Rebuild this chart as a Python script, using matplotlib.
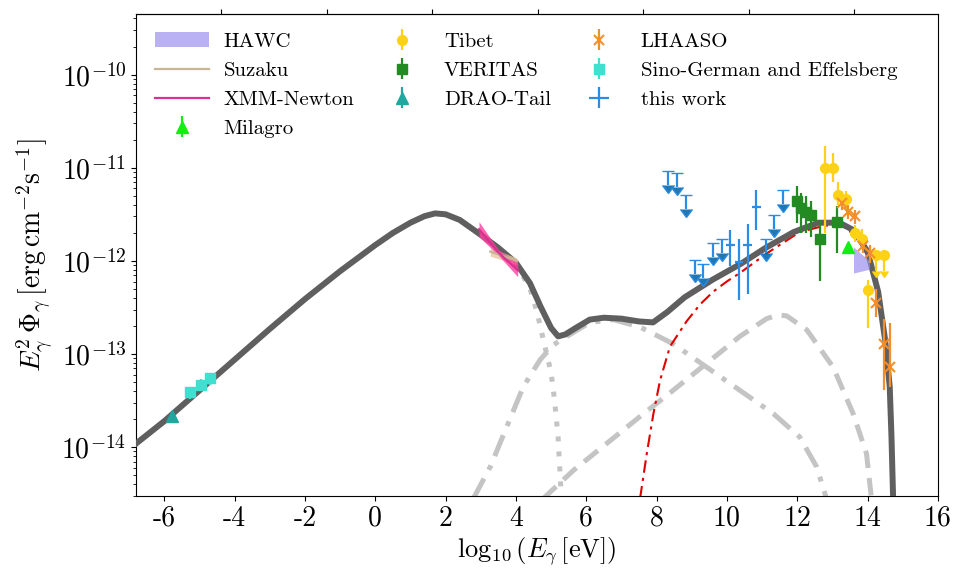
import numpy as np
from matplotlib import pyplot as plt
from matplotlib.ticker import NullFormatter

plt.rcParams['mathtext.fontset'] = 'cm'
plt.rcParams['font.family'] = 'serif'
plt.rcParams['font.serif'] = ['cmr10']
plt.rcParams['axes.formatter.use_mathtext'] = True
plt.rcParams['axes.unicode_minus'] = False

# model curves: log10(E/eV) and log10(E^2 Phi / erg cm^-2 s^-1)
total_x = [-6.8, -6.0, -5.0, -4.0, -3.0, -2.0, -1.0, 0.0, 0.5, 1.0, 1.4, 1.7, 2.0, 2.4,
           3.0, 3.5, 4.0, 4.4, 4.7, 5.0, 5.2, 5.4, 5.7, 6.1, 6.5, 7.0, 7.5, 7.9, 8.3,
           8.8, 9.6, 10.4, 11.1, 11.9, 12.6, 13.2, 13.6, 14.0, 14.3, 14.5, 14.63, 14.68, 14.73]
total_logy = [-13.96, -13.72, -13.39, -13.06, -12.73, -12.41, -12.11, -11.83, -11.70, -11.59,
              -11.52, -11.49, -11.50, -11.56, -11.72, -11.86, -12.02, -12.24, -12.49, -12.72,
              -12.81, -12.79, -12.72, -12.63, -12.61, -12.62, -12.65, -12.66, -12.55, -12.39,
              -12.20, -12.03, -11.86, -11.69, -11.59, -11.59, -11.67, -11.90, -12.33, -12.85,
              -13.35, -13.89, -14.6]

sync_x = [3.0, 3.5, 4.0, 4.4, 4.6, 4.8, 5.0, 5.1, 5.2, 5.3]
sync_logy = [-11.72, -11.86, -12.03, -12.30, -12.55, -12.88, -13.20, -13.50, -13.90, -14.6]

dashdot_x = [2.79, 3.27, 3.74, 4.21, 4.69, 5.07, 5.45, 6.11, 6.77, 7.53, 8.47, 9.42, 10.37,
             11.32, 12.07, 12.55, 12.83]
dashdot_logy = [-14.55, -14.21, -13.78, -13.35, -13.06, -12.90, -12.81, -12.66, -12.63, -12.71,
                -12.89, -13.14, -13.39, -13.64, -13.89, -14.21, -14.55]

dashed_x = [4.78, 5.63, 6.58, 7.53, 8.47, 9.42, 10.37, 11.13, 11.45, 11.70, 12.27, 13.02,
            13.59, 13.97, 14.11]
dashed_logy = [-14.55, -14.25, -13.96, -13.67, -13.39, -13.10, -12.81, -12.62, -12.58, -12.59,
               -12.74, -13.14, -13.64, -14.07, -14.55]

red_x = [7.53, 7.72, 7.91, 8.10, 8.38, 8.85, 9.23, 9.61, 10.0, 10.37, 11.13, 12.07, 12.8,
         13.3, 13.7, 14.0, 14.3, 14.5, 14.63, 14.7]
red_logy = [-14.55, -14.07, -13.64, -13.28, -12.92, -12.65, -12.47, -12.33, -12.22, -12.13,
            -11.92, -11.69, -11.62, -11.63, -11.74, -11.95, -12.36, -12.90, -13.45, -14.55]

# data sets
hawc_x = [13.6, 14.05]
hawc_lo = [-12.13, -12.09]
hawc_hi = [-11.85, -12.0]

suzaku_x = [3.27, 4.03]
suzaku_logy = [-11.90, -12.00]
suzaku_lo = [-11.95, -12.04]
suzaku_hi = [-11.86, -11.97]

xmm_x = [2.95, 3.5, 4.05]
xmm_logy = [-11.66, -11.91, -12.10]
xmm_lo = [-11.74, -11.94, -12.17]
xmm_hi = [-11.58, -11.88, -12.02]

milagro_x = [13.45]
milagro_logy = [-11.85]

tibet_x = [12.78, 13.02, 13.16, 13.39, 13.64, 13.83, 14.02]
tibet_logy = [-11.0, -11.0, -11.29, -11.34, -11.70, -11.76, -12.31]
tibet_lo = [-11.70, -11.15, -11.40, -11.45, -11.80, -11.86, -12.72]
tibet_hi = [-10.77, -10.84, -11.15, -11.25, -11.62, -11.66, -12.20]
tibet_ul_x = [14.25, 14.46]
tibet_ul_logy = [-11.94, -11.94]

veritas_x = [11.98, 12.12, 12.26, 12.38, 12.64, 13.12]
veritas_logy = [-11.36, -11.43, -11.47, -11.51, -11.76, -11.58]
veritas_lo = [-11.59, -11.70, -11.70, -11.74, -12.22, -11.92]
veritas_hi = [-11.20, -11.27, -11.30, -11.36, -11.56, -11.41]

drao_x = [-5.78]
drao_logy = [-13.66]

lhaaso_x = [13.26, 13.45, 13.64, 13.87, 14.06, 14.25, 14.47, 14.63]
lhaaso_logy = [-11.38, -11.47, -11.52, -11.84, -11.92, -12.45, -12.89, -13.14]
lhaaso_lo = [-11.45, -11.55, -11.60, -11.92, -12.02, -12.60, -13.39, -13.35]
lhaaso_hi = [-11.31, -11.40, -11.45, -11.76, -11.83, -12.30, -12.62, -12.67]

sino_x = [-5.26, -4.97, -4.69]
sino_logy = [-13.41, -13.33, -13.26]

work_x = [10.10, 10.34, 10.59, 10.84]
work_logy = [-11.83, -12.01, -11.83, -11.42]
work_lo = [-12.06, -12.42, -12.35, -11.67]
work_hi = [-11.67, -11.76, -11.60, -11.24]
work_ul_x = [8.33, 8.59, 8.85, 9.09, 9.33, 9.59, 9.85, 11.11, 11.34, 11.60]
work_ul_logy = [-11.04, -11.06, -11.29, -11.99, -12.03, -11.81, -11.77, -11.76, -11.51, -11.24]

x_ticks = [-6, -4, -2, 0, 2, 4, 6, 8, 10, 12, 14, 16]
x_ticklabels = ['-6', '-4', '-2', '0', '2', '4', '6', '8', '10', '12', '14', '16']
y_ticks = [1e-14, 1e-13, 1e-12, 1e-11, 1e-10]


def p(v):
    return 10.0 ** np.array(v)


def yerr(logy, lo, hi):
    y = p(logy)
    return [y - p(lo), p(hi) - y]


fig = plt.figure(figsize=(9.59, 5.72), dpi=100)
ax = fig.add_axes([0.142, 0.133, 0.836, 0.843])

light = '#c4c4c4'
ax.plot(sync_x, p(sync_logy), color=light, lw=3.6, dashes=(1, 2), zorder=1)
ax.plot(dashdot_x, p(dashdot_logy), color=light, lw=3.6, dashes=(4.5, 2, 1, 2), zorder=1)
ax.plot(dashed_x, p(dashed_logy), color=light, lw=3.6, dashes=(3.5, 2), zorder=1)
ax.plot(red_x, p(red_logy), color='#e00000', lw=1.5, dashes=(6, 2.5, 1.5, 2.5), zorder=2)
ax.plot(total_x, p(total_logy), color='#5f5f5f', lw=4.3, zorder=3)

hawc = ax.fill_between(hawc_x, p(hawc_lo), p(hawc_hi), color='#9d8ff0', alpha=0.7,
                       lw=0, zorder=4, label='HAWC')
ax.fill_between(suzaku_x, p(suzaku_lo), p(suzaku_hi), color='#e8c9a4', alpha=0.8, lw=0, zorder=4)
suzaku, = ax.plot(suzaku_x, p(suzaku_logy), color='#c8b496', lw=1.6, zorder=5, label='Suzaku')
ax.fill_between(xmm_x, p(xmm_lo), p(xmm_hi), color='#ff3fa0', alpha=0.8, lw=0, zorder=4)
xmm, = ax.plot(xmm_x, p(xmm_logy), color='#d6338e', lw=1.6, zorder=5, label='XMM-Newton')

ekw = dict(elinewidth=1.6, capsize=0, zorder=6)
milagro = ax.errorbar(milagro_x, p(milagro_logy), yerr=p(milagro_logy) * 0.1, fmt='^',
                      color='#11ee11', ms=9, label='Milagro', **ekw)
tibet = ax.errorbar(tibet_x, p(tibet_logy), yerr=yerr(tibet_logy, tibet_lo, tibet_hi), fmt='o',
                    color='#fcd116', ms=7, label='Tibet', **ekw)
ul_y = p(tibet_ul_logy)
ax.errorbar(tibet_ul_x, ul_y, yerr=ul_y * (1 - 10 ** -0.17), uplims=True, fmt='o',
            color='#fcd116', ms=7, elinewidth=1.6, capsize=3, zorder=6)
veritas = ax.errorbar(veritas_x, p(veritas_logy), yerr=yerr(veritas_logy, veritas_lo, veritas_hi),
                      fmt='s', color='#228b22', ms=7, label='VERITAS', **ekw)
drao = ax.errorbar(drao_x, p(drao_logy), yerr=p(drao_logy) * 0.08, fmt='^',
                   color='#20a8a0', ms=8, label='DRAO-Tail', **ekw)
lhaaso = ax.errorbar(lhaaso_x, p(lhaaso_logy), yerr=yerr(lhaaso_logy, lhaaso_lo, lhaaso_hi),
                     fmt='x', color='#f28e2b', ms=7, mew=1.5, label='LHAASO', **ekw)
sino = ax.errorbar(sino_x, p(sino_logy), yerr=p(sino_logy) * 0.15, fmt='s',
                   color='#40e0d0', ms=6.5, label='Sino-German and Effelsberg', **ekw)
work = ax.errorbar(work_x, p(work_logy), yerr=yerr(work_logy, work_lo, work_hi), xerr=0.12,
                   fmt='none', ecolor='#2b8ce6', label='this work', **ekw)
wy = p(work_ul_logy)
ax.errorbar(work_ul_x, wy, yerr=wy * (1 - 10 ** -0.15), uplims=True, fmt='none',
            ecolor='#2b8ce6', elinewidth=1.6, capsize=4, zorder=6)

ax.set_yscale('log')
ax.set_xlim(-6.8, 16)
ax.set_ylim(3e-15, 4.5e-10)
ax.set_yticks(y_ticks)
ax.yaxis.set_minor_formatter(NullFormatter())
ax.set_xticks(x_ticks)
ax.set_xticklabels(x_ticklabels)
ax.tick_params(labelsize=20)

top = ax.secondary_xaxis('top', functions=(lambda v: v + 14.383, lambda f: f - 14.383))
top.set_xticks(np.arange(10, 29, 3))
top.tick_params(labeltop=False)

ax.set_xlabel(r'$\log_{10}(E_\gamma\,[\mathrm{eV}])$', fontsize=19, labelpad=2)
ax.set_ylabel(r'$E_\gamma^2\,\Phi_\gamma\,[\mathrm{erg\,cm^{-2}s^{-1}}]$', fontsize=20)

handles = [hawc, suzaku, xmm, milagro, tibet, veritas, drao, lhaaso, sino, work]
ax.legend(handles=handles, loc='upper left', ncol=3, frameon=False, fontsize=15,
          handlelength=2.6, handletextpad=0.7, columnspacing=1.0, labelspacing=0.5)

plt.savefig('out.png', dpi=100)
